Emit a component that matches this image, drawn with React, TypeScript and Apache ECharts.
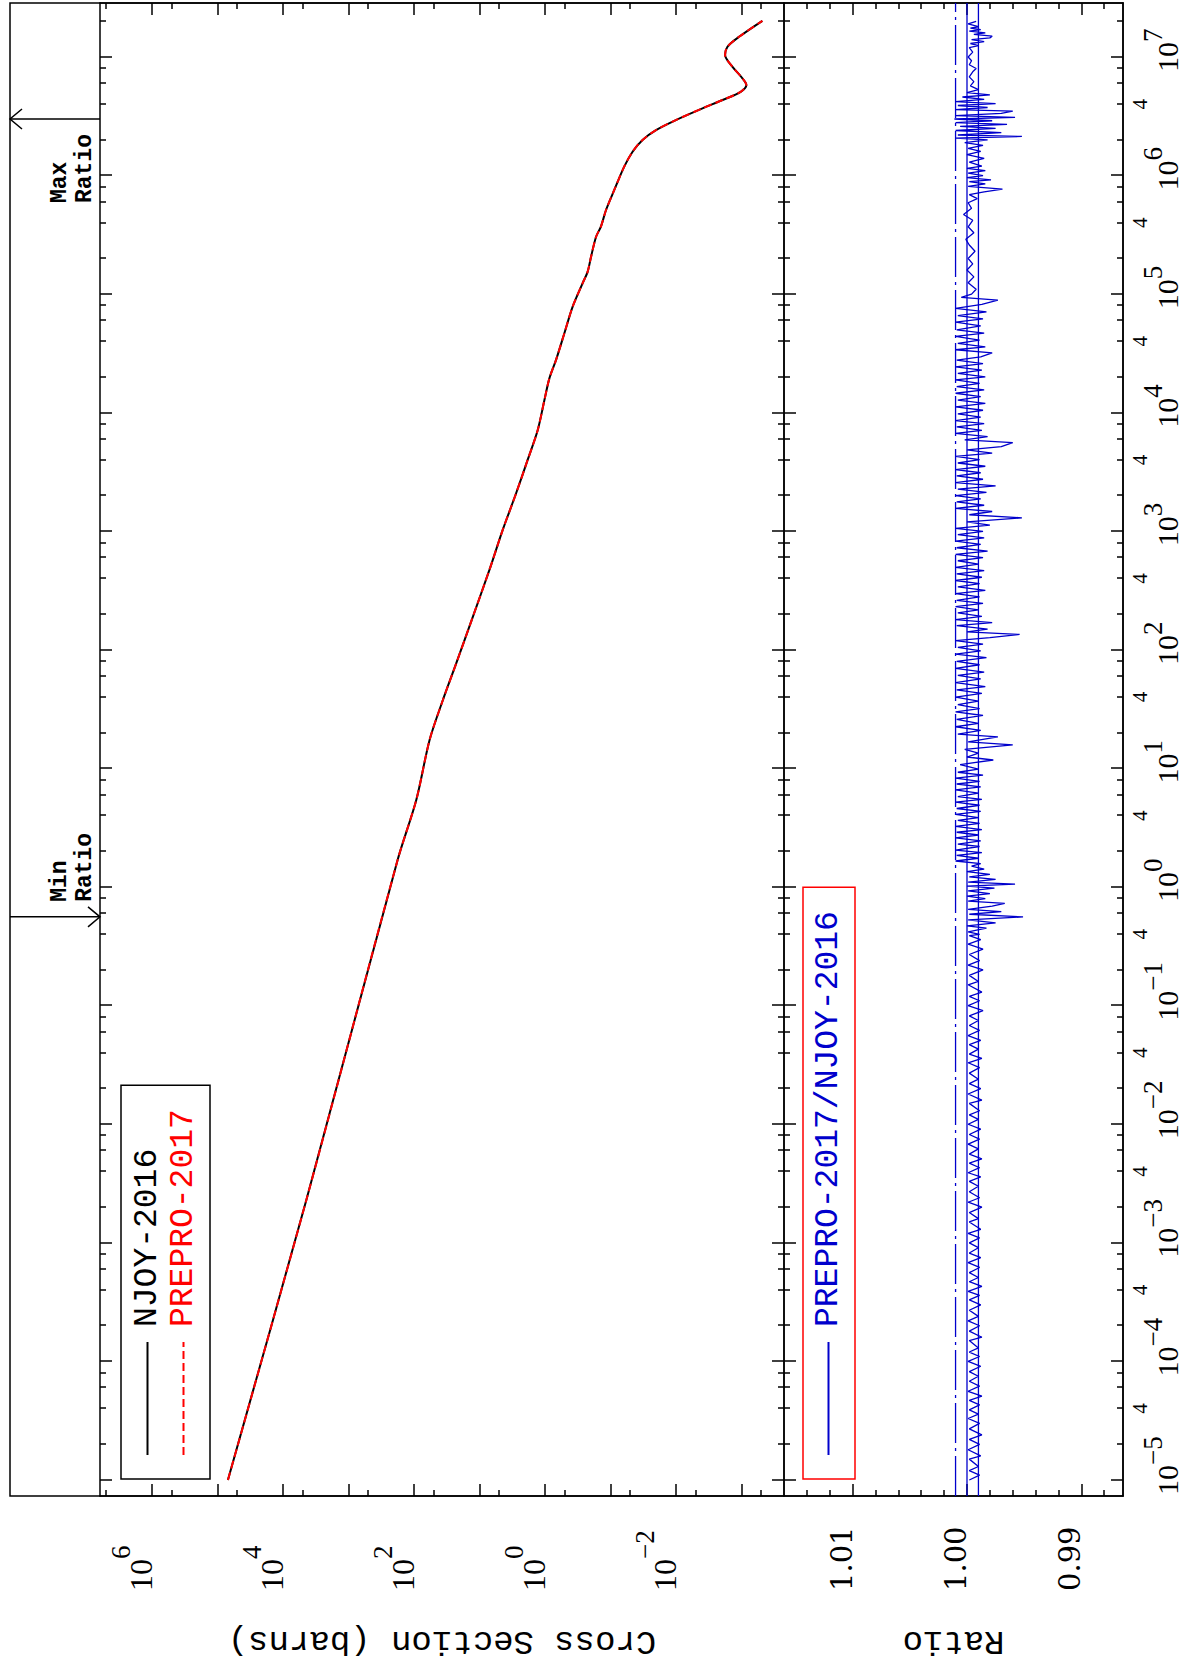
import React, { useEffect, useRef } from "react";
import * as echarts from "echarts";

// ---------- axis ranges (landscape chart, rotated on the page) ----------
const E_MIN = 7.33e-6;
const E_MAX = 2.854e7;
const XS_MIN = 2.244e-4;
const XS_MAX = 6.22e6;
const R_MIN = 0.98636;
const R_MAX = 1.016;

// ---------- tick lists ----------
const energyMajorTicks = [1e-5, 1e-4, 1e-3, 1e-2, 1e-1, 1, 1e1, 1e2, 1e3, 1e4, 1e5, 1e6, 1e7];
const energyMinorTicks = [
  2e-5, 4e-5, 6e-5, 8e-5, 2e-4, 4e-4, 6e-4, 8e-4, 2e-3, 4e-3, 6e-3, 8e-3,
  2e-2, 4e-2, 6e-2, 8e-2, 0.2, 0.4, 0.6, 0.8, 2, 4, 6, 8, 20, 40, 60, 80,
  200, 400, 600, 800, 2e3, 4e3, 6e3, 8e3, 2e4, 4e4, 6e4, 8e4, 2e5, 4e5, 6e5, 8e5,
  2e6, 4e6, 6e6, 8e6, 2e7,
];
const energyFourLabels = [4e-5, 4e-4, 4e-3, 4e-2, 0.4, 4, 40, 400, 4e3, 4e4, 4e5, 4e6];
const xsMajorTicks = [1e-3, 1e-2, 1e-1, 1, 1e1, 1e2, 1e3, 1e4, 1e5, 1e6];
const xsMinorTicks = [5e-4, 5e-3, 5e-2, 0.5, 5, 50, 500, 5e3, 5e4, 5e5, 5e6];
const xsLabelTicks = [1e-2, 1, 1e2, 1e4, 1e6];
const ratioMajorTicks = [0.99, 1.0, 1.01];
const ratioMinorTicks = [0.988, 0.992, 0.994, 0.996, 0.998, 1.002, 1.004, 1.006, 1.008, 1.012, 1.014];
const ratioRefLines = [1.001, 1.0, 0.999];

// ---------- cross section (barns) vs energy (eV) ----------
const xsEnergy = [
  1.0e-5, 2.31e-3, 1.69, 5.43, 17.4, 37.8, 77.3, 191, 473, 1028, 2094, 4000, 7161,
  1.28e4, 1.95e4, 2.79e4, 4.68e4, 7.85e4, 1.24e5, 1.55e5, 2.07e5, 3.05e5, 3.71e5,
  5.13e5, 7.57e5, 1.19e6, 1.59e6, 2.0e6, 2.42e6, 2.94e6, 3.69e6, 4.34e6, 5.09e6,
  5.81e6, 6.61e6, 8.3e6, 1.04e7, 1.22e7, 1.48e7, 2.02e7,
];
const xsNjoy = [
  6.93e4, 4.39e3, 178, 92.3, 57.8, 36.2, 22.6, 12.6, 7.05, 4.42, 2.76, 1.84, 1.29,
  1.02, 0.857, 0.678, 0.506, 0.378, 0.266, 0.223, 0.198, 0.166, 0.14,
  0.117, 0.0875, 0.0617, 0.046, 0.0324, 0.0202, 0.01005, 0.00394, 0.00195, 0.00103,
  0.000843, 0.000968, 0.00138, 0.00178, 0.00164, 0.00109, 0.00048,
];
const xsPrepro = xsNjoy;

// ---------- ratio PREPRO-2017 / NJOY-2016 : [energy eV, ratio] ----------
const ratioPoints: [number, number][] = [
  [1.0e-5,0.9998],[1.1e-5,0.9989],[1.2e-5,0.9998],[1.3e-5,0.999],[1.5e-5,0.9998],[1.6e-5,0.9988],[1.8e-5,0.9999],[2.0e-5,0.9989],
  [2.2e-5,0.9998],[2.4e-5,0.9987],[2.7e-5,0.9998],[3.0e-5,0.9989],[3.3e-5,0.9999],[3.6e-5,0.999],[3.9e-5,0.9998],[4.3e-5,0.9989],
  [4.7e-5,0.9998],[5.1e-5,0.9987],[5.6e-5,0.9999],[6.2e-5,0.9989],[6.8e-5,0.9998],[7.5e-5,0.999],[8.2e-5,0.9998],[9.1e-5,0.9988],
  [1.0e-4,0.9999],[1.1e-4,0.9989],[1.2e-4,0.9998],[1.3e-4,0.999],[1.5e-4,0.9998],[1.6e-4,0.9987],[1.8e-4,0.9998],[2.0e-4,0.9989],
  [2.2e-4,0.9999],[2.4e-4,0.999],[2.7e-4,0.9998],[3.0e-4,0.9988],[3.3e-4,0.9998],[3.6e-4,0.9989],[3.9e-4,0.9999],[4.3e-4,0.9987],
  [4.7e-4,0.9998],[5.1e-4,0.999],[5.6e-4,0.9998],[6.2e-4,0.9989],[6.8e-4,0.9999],[7.5e-4,0.9988],[8.2e-4,0.9998],[9.1e-4,0.999],
  [1.0e-3,0.9998],[1.1e-3,0.9989],[1.2e-3,0.9999],[1.3e-3,0.9988],[1.5e-3,0.9998],[1.6e-3,0.999],[1.8e-3,0.9998],[2.0e-3,0.9987],
  [2.2e-3,0.9999],[2.4e-3,0.9989],[2.7e-3,0.9998],[3.0e-3,0.999],[3.3e-3,0.9998],[3.6e-3,0.9988],[3.9e-3,0.9999],[4.3e-3,0.9989],
  [4.7e-3,0.9998],[5.1e-3,0.9987],[5.6e-3,0.9998],[6.2e-3,0.999],[6.8e-3,0.9999],[7.5e-3,0.9989],[8.2e-3,0.9998],[9.1e-3,0.9988],
  [1.0e-2,0.9999],[1.1e-2,0.999],[1.2e-2,0.9998],[1.3e-2,0.9989],[1.5e-2,0.9998],[1.6e-2,0.9987],[1.8e-2,0.9999],[2.0e-2,0.9988],
  [2.2e-2,0.9998],[2.4e-2,0.999],[2.7e-2,0.9998],[3.0e-2,0.9989],[3.3e-2,0.9999],[3.6e-2,0.9987],[3.9e-2,0.9998],[4.3e-2,0.999],
  [4.7e-2,0.9998],[5.1e-2,0.9988],[5.6e-2,0.9999],[6.2e-2,0.9989],[6.8e-2,0.9998],[7.5e-2,0.999],[8.2e-2,0.9998],[9.1e-2,0.9986],
  [0.1,0.9999],[0.11,0.9989],[0.12,0.9998],[0.13,0.9987],[0.15,0.9999],[0.16,0.999],[0.18,0.9998],[0.2,0.9986],
  [0.22,0.9999],[0.24,0.9989],[0.27,0.9998],[0.3,0.9986],[0.33,0.9999],[0.36,0.9988],[0.39,0.9998],
  [0.4,0.9989],[0.42,0.9999],[0.45,0.9983],[0.47,1.0],[0.5,0.9975],[0.53,0.9999],[0.56,0.9951],[0.59,0.9998],
  [0.62,0.997],[0.65,0.9999],[0.69,0.9978],[0.73,0.9967],[0.76,0.9999],[0.8,0.9984],[0.84,1.0],[0.88,0.998],
  [0.93,0.9999],[0.98,0.9976],[1.02,1.0],[1.06,0.9958],[1.1,0.9999],[1.16,0.9975],[1.22,0.9998],[1.28,0.998],
  [1.35,1.0],[1.42,0.9985],[1.5,0.9996],[1.58,0.9988],[1.66,1.001],[1.75,0.999],[1.85,1.0009],[1.95,0.9987],
  [2.05,1.001],[2.2,0.9989],[2.3,1.0008],[2.45,0.9988],[2.6,1.001],[2.75,0.999],[2.9,1.0009],[3.05,0.9987],
  [3.25,1.001],[3.45,0.9989],[3.65,1.0008],[3.85,0.999],[4.1,1.001],[4.35,0.9988],[4.6,1.0009],[4.9,0.9989],
  [5.2,1.001],[5.5,0.9987],[5.8,1.0008],[6.2,0.999],[6.6,1.001],[7.0,0.9988],[7.4,1.0009],[7.8,0.9989],
  [8.3,1.001],[8.8,0.9986],[9.3,1.0008],[9.9,0.999],[10.8,1.0006],[11.8,0.9977],[12.5,1.0],[13.5,0.999],
  [14.5,1.0002],[15.8,0.996],[16.8,0.9999],[18.5,0.9973],[19.5,1.0008],[21,0.9988],[22.5,1.001],[24,0.999],
  [26,1.0009],[28,0.9986],[30,1.001],[32,0.9989],[34.5,1.0008],[37,0.999],[40,1.001],[43,0.9987],
  [46,1.0009],[49,0.9984],[53,1.001],[57,0.9988],[61,1.0008],[65,0.9985],[70,1.001],[75,0.9989],
  [80,1.0009],[86,0.9983],[92,1.001],[98,0.9988],[105,1.0008],[112,0.9986],[120,1.001],[127,0.998],
  [135,0.9954],[142,1.0],[150,0.9982],[160,1.0009],[170,0.9978],[180,1.001],[192,0.9987],[205,1.0008],
  [218,0.999],[232,1.001],[247,0.9986],[262,1.0009],[280,0.9989],[298,1.001],[318,0.9984],[340,1.0008],
  [362,0.9989],[385,1.001],[410,0.9987],[437,1.0009],[466,0.9985],[497,1.001],[530,0.999],[565,1.0008],
  [600,0.9986],[640,1.001],[682,0.9982],[727,1.0009],[775,0.9988],[826,1.001],[880,0.9985],[938,1.0008],
  [1000,0.9986],[1060,1.001],[1130,0.998],[1200,1.0],[1300,0.9952],[1380,0.9998],[1470,0.9978],[1560,1.001],
  [1660,0.9985],[1770,1.0009],[1880,0.9988],[2000,1.001],[2130,0.9983],[2270,1.0008],[2420,0.9975],[2580,1.001],
  [2750,0.9986],[2930,1.0009],[3120,0.9988],[3320,1.001],[3540,0.9984],[3770,1.0008],[4020,0.9989],[4280,1.001],
  [4560,0.9978],[4860,1.0],[5180,0.997],[5600,0.996],[5900,1.0002],[6300,0.9982],[6700,1.001],[7100,0.9987],
  [7600,1.0009],[8100,0.9985],[8600,1.001],[9200,0.9988],[9800,1.0008],[1.05e4,0.9986],[1.12e4,1.001],[1.2e4,0.9984],
  [1.28e4,1.0008],[1.37e4,0.9988],[1.46e4,1.001],[1.56e4,0.9985],[1.66e4,1.0009],[1.77e4,0.9989],[1.89e4,1.001],[2.01e4,0.9984],
  [2.15e4,1.0008],[2.29e4,0.9987],[2.44e4,1.001],[2.6e4,0.9986],[2.78e4,1.0009],[2.96e4,0.9988],[3.2e4,0.9978],[3.4e4,1.001],
  [3.6e4,0.9984],[3.85e4,1.0008],[4.1e4,0.9989],[4.4e4,1.001],[4.7e4,0.9985],[5.0e4,1.0009],[5.4e4,0.9988],[5.8e4,1.001],
  [6.2e4,0.9986],[6.6e4,1.0008],[7.1e4,0.9983],[7.6e4,1.001],[8.2e4,0.9987],[8.9e4,0.9973],[9.4e4,1.0005],
  [1.0e5,0.9996],[1.1e5,0.9992],[1.25e5,0.9999],[1.4e5,0.9994],[1.6e5,1.0],[1.8e5,0.9995],[2.0e5,0.9999],[2.3e5,0.9993],
  [2.6e5,0.9998],[2.9e5,1.0001],[3.3e5,0.9994],[3.7e5,0.9999],[4.2e5,0.9995],[4.7e5,1.0003],[5.3e5,0.9996],[5.9e5,0.9999],
  [6.4e5,0.9991],[6.9e5,0.9998],[7.3e5,0.9985],[7.7e5,0.9969],[8.1e5,0.9999],[8.5e5,0.9984],[8.9e5,0.9998],[9.2e5,0.9979],
  [9.6e5,1.0],[1.0e6,0.9986],[1.05e6,0.9999],[1.1e6,0.9984],[1.15e6,1.0],[1.2e6,0.9987],[1.3e6,0.9998],[1.4e6,0.9985],
  [1.5e6,1.0],[1.6e6,0.9988],[1.7e6,0.9999],[1.8e6,0.9986],[1.9e6,1.0002],[2.0e6,0.9982],[2.07e6,1.001],[2.14e6,0.9952],
  [2.2e6,1.0008],[2.3e6,0.997],[2.4e6,1.001],[2.5e6,0.9975],[2.6e6,1.0006],[2.7e6,0.9965],[2.8e6,1.001],[2.9e6,0.9978],
  [3.0e6,1.0011],[3.1e6,0.9958],[3.2e6,1.001],[3.35e6,0.997],[3.5e6,0.996],[3.6e6,1.001],[3.75e6,0.9982],[3.9e6,1.0008],
  [4.05e6,0.9975],[4.2e6,1.001],[4.4e6,0.9985],[4.6e6,1.0004],[4.8e6,0.998],[5.0e6,1.0],[5.3e6,0.999],[5.7e6,0.9997],
  [6.2e6,0.9994],[6.8e6,0.9998],[7.5e6,0.9995],[8.0e6,0.9992],[8.6e6,0.9998],[9.3e6,0.9996],[1.0e7,0.9999],[1.1e7,0.9995],
  [1.2e7,0.9998],[1.25e7,0.999],[1.3e7,0.9997],[1.35e7,0.9985],[1.4e7,0.9996],[1.45e7,0.998],[1.5e7,0.9978],[1.55e7,0.9994],
  [1.6e7,0.9984],[1.65e7,0.9998],[1.7e7,0.9988],[1.75e7,0.9997],[1.8e7,0.999],[1.9e7,0.9999],[2.0e7,0.9992],
];

// ---------- min / max ratio markers ----------
const extremeEnergies = [3.0e6, 0.561];
const extremeLabels = ["Max", "Min"];

// ---------- names ----------
const seriesNames = ["NJOY-2016", "PREPRO-2017", "PREPRO-2017/NJOY-2016"];

const SERIF = "Liberation Serif";
const MONO = "Liberation Mono";
const DSERIF = "DejaVu Serif";
const BLUE = "#0000cc";
const RED = "#ff0000";

function tickAxis(base: any, ticks: number[], length: number, lineShow: boolean) {
  return {
    ...base,
    axisLine: { show: lineShow, onZero: false, lineStyle: { color: "#000", width: 1.5 } },
    axisTick: { show: true, inside: true, length, customValues: ticks, lineStyle: { color: "#000", width: 1.5 } },
    axisLabel: { show: false },
    splitLine: { show: false },
    minorTick: { show: false },
    minorSplitLine: { show: false },
    silent: true,
  };
}

function labelOnlyAxis(base: any, axisLabel: any) {
  return {
    ...base,
    axisLine: { show: false },
    axisTick: { show: false },
    splitLine: { show: false },
    minorTick: { show: false },
    minorSplitLine: { show: false },
    silent: true,
    axisLabel: { show: true, color: "#000", ...axisLabel },
  };
}

function expText(v: number) {
  const e = Math.round(Math.log10(v));
  return e < 0 ? "\u2212" + Math.abs(e) : String(e);
}

function buildOption(): any {
  const eBase = { type: "log", logBase: 10, min: E_MIN, max: E_MAX };
  const xsBase = { type: "log", logBase: 10, min: XS_MIN, max: XS_MAX };
  const rBase = { type: "value", min: R_MIN, max: R_MAX };

  const grids = [
    { left: 167, right: 3, top: 10, height: 90, outerBoundsMode: "none", containLabel: false },
    { left: 167, right: 3, top: 100, height: 684, outerBoundsMode: "none", containLabel: false },
    { left: 167, right: 3, top: 784, height: 339, outerBoundsMode: "none", containLabel: false },
  ];

  // energy axis: "10" base labels on the ticked bottom axis
  const energyLabelAxis: any = tickAxis({ ...eBase, gridIndex: 2, position: "bottom" }, energyMajorTicks, 12, true);
  energyLabelAxis.axisLabel = {
    show: true,
    customValues: energyMajorTicks,
    formatter: () => "10",
    margin: 33,
    align: "center",
    verticalAlign: "top",
    fontFamily: SERIF,
    fontSize: 30,
    lineHeight: 22,
    color: "#000",
  };
  const energyFourAxis: any = tickAxis({ ...eBase, gridIndex: 2, position: "bottom" }, energyMinorTicks, 6, false);
  energyFourAxis.axisLabel = {
    show: true,
    customValues: energyFourLabels,
    formatter: () => "4",
    margin: 7,
    align: "center",
    verticalAlign: "top",
    fontFamily: SERIF,
    fontSize: 21,
    lineHeight: 20,
    color: "#000",
  };
  const energyExpAxis = labelOnlyAxis(
    { ...eBase, gridIndex: 2, position: "bottom" },
    {
      customValues: energyMajorTicks,
      formatter: (v: number) => expText(v),
      margin: 19,
      align: "left",
      verticalAlign: "top",
      padding: [0, 0, 0, 15],
      fontFamily: SERIF,
      fontSize: 27,
      lineHeight: 22,
    }
  );

  const xAxis = [
    { ...eBase, gridIndex: 0, show: false },
    tickAxis({ ...eBase, gridIndex: 1, position: "top" }, energyMajorTicks, 12, true),
    tickAxis({ ...eBase, gridIndex: 1, position: "top" }, energyMinorTicks, 6, false),
    tickAxis({ ...eBase, gridIndex: 1, position: "bottom" }, energyMajorTicks, 12, true),
    tickAxis({ ...eBase, gridIndex: 1, position: "bottom" }, energyMinorTicks, 6, false),
    tickAxis({ ...eBase, gridIndex: 2, position: "top" }, energyMajorTicks, 12, true),
    tickAxis({ ...eBase, gridIndex: 2, position: "top" }, energyMinorTicks, 6, false),
    energyLabelAxis,
    energyFourAxis,
    energyExpAxis,
  ];

  // cross-section axis
  const xsLabelAxis: any = tickAxis({ ...xsBase, gridIndex: 1, position: "left" }, xsMajorTicks, 12, true);
  xsLabelAxis.axisLabel = {
    show: true,
    customValues: xsLabelTicks,
    formatter: () => "10",
    margin: 95,
    align: "left",
    verticalAlign: "bottom",
    fontFamily: SERIF,
    fontSize: 32,
    lineHeight: 22,
    color: "#000",
  };
  xsLabelAxis.name = "Cross Section (barns)";
  xsLabelAxis.nameLocation = "middle";
  xsLabelAxis.nameRotate = 90;
  xsLabelAxis.nameGap = 127;
  xsLabelAxis.nameTextStyle = { fontFamily: MONO, fontSize: 34, lineHeight: 36, color: "#000" };

  const xsExpAxis = labelOnlyAxis(
    { ...xsBase, gridIndex: 1, position: "left" },
    {
      customValues: xsLabelTicks,
      formatter: (v: number) => expText(v),
      margin: 63,
      align: "left",
      verticalAlign: "bottom",
      fontFamily: SERIF,
      fontSize: 27,
      lineHeight: 62,
    }
  );

  // ratio axis
  const ratioLabelAxis: any = tickAxis({ ...rBase, gridIndex: 2, position: "left" }, ratioMajorTicks, 12, true);
  ratioLabelAxis.axisLabel = {
    show: true,
    customValues: ratioMajorTicks,
    formatter: (v: number) => v.toFixed(2),
    margin: 95,
    align: "left",
    verticalAlign: "bottom",
    fontFamily: DSERIF,
    fontSize: 29,
    lineHeight: 22,
    color: "#000",
  };
  ratioLabelAxis.name = "Ratio";
  ratioLabelAxis.nameLocation = "middle";
  ratioLabelAxis.nameRotate = 90;
  ratioLabelAxis.nameGap = 127;
  ratioLabelAxis.nameTextStyle = { fontFamily: MONO, fontSize: 34, lineHeight: 36, color: "#000" };

  const yAxis = [
    { type: "value", min: 0, max: 1, gridIndex: 0, show: false },
    xsLabelAxis,
    tickAxis({ ...xsBase, gridIndex: 1, position: "left" }, xsMinorTicks, 6, false),
    tickAxis({ ...xsBase, gridIndex: 1, position: "right" }, xsMajorTicks, 12, true),
    tickAxis({ ...xsBase, gridIndex: 1, position: "right" }, xsMinorTicks, 6, false),
    ratioLabelAxis,
    tickAxis({ ...rBase, gridIndex: 2, position: "left" }, ratioMinorTicks, 6, false),
    tickAxis({ ...rBase, gridIndex: 2, position: "right" }, ratioMajorTicks, 12, true),
    tickAxis({ ...rBase, gridIndex: 2, position: "right" }, ratioMinorTicks, 6, false),
    xsExpAxis,
  ];

  const legendText = { fontFamily: MONO, fontSize: 33, padding: [0, 0, 0, 10] };
  const hiddenSymbol = { color: "rgba(0,0,0,0)", borderColor: "rgba(0,0,0,0)", borderWidth: 0, opacity: 0 };

  const refLineSeries = ratioRefLines.map((r, i) => ({
    type: "line",
    xAxisIndex: 5,
    yAxisIndex: 5,
    data: [
      [E_MIN, r],
      [E_MAX, r],
    ],
    symbol: "none",
    silent: true,
    z: 1,
    lineStyle: { color: BLUE, width: 1.3, type: i === 0 ? [40, 5, 3, 5] : "solid" },
  }));

  return {
    animation: false,
    backgroundColor: "#fff",
    grid: grids,
    xAxis,
    yAxis,
    legend: [
      {
        data: [
          { name: seriesNames[0], textStyle: { ...legendText, color: "#000" } },
          { name: seriesNames[1], textStyle: { ...legendText, color: RED } },
        ],
        orient: "vertical",
        left: 184,
        top: 121,
        itemWidth: 113,
        itemHeight: 20,
        itemGap: 3,
        padding: [10, 24, 10, 23],
        borderColor: "#000",
        borderWidth: 1.5,
        selectedMode: false,
        itemStyle: hiddenSymbol,
        textStyle: legendText,
      },
      {
        data: [{ name: seriesNames[2], textStyle: { ...legendText, color: BLUE } }],
        orient: "vertical",
        left: 184,
        top: 803,
        itemWidth: 113,
        itemHeight: 20,
        itemGap: 3,
        padding: [9, 24, 10, 23],
        borderColor: RED,
        borderWidth: 1.5,
        selectedMode: false,
        itemStyle: hiddenSymbol,
        textStyle: legendText,
      },
    ],
    graphic: [
      {
        type: "rect",
        silent: true,
        shape: { x: 167, y: 10, width: 1493, height: 1113 },
        style: { fill: "none", stroke: "#000", lineWidth: 1.5 },
      },
    ],
    series: [
      {
        name: seriesNames[0],
        type: "line",
        xAxisIndex: 1,
        yAxisIndex: 1,
        data: xsEnergy.map((e, i) => [e, xsNjoy[i]]),
        symbol: "none",
        smooth: 0.3,
        color: "#000",
        lineStyle: { color: "#000", width: 2 },
        silent: true,
      },
      {
        name: seriesNames[1],
        type: "line",
        xAxisIndex: 1,
        yAxisIndex: 1,
        data: xsEnergy.map((e, i) => [e, xsPrepro[i]]),
        symbol: "none",
        smooth: 0.3,
        color: RED,
        lineStyle: { color: RED, width: 2, type: [8, 4] },
        silent: true,
      },
      ...refLineSeries,
      {
        name: seriesNames[2],
        type: "line",
        xAxisIndex: 5,
        yAxisIndex: 5,
        data: ratioPoints,
        symbol: "none",
        color: BLUE,
        z: 2,
        lineStyle: { color: BLUE, width: 1.3 },
        silent: true,
      },
      {
        type: "custom",
        xAxisIndex: 0,
        yAxisIndex: 0,
        clip: false,
        silent: true,
        data: extremeEnergies.map((e) => [e, 0]),
        renderItem: (params: any, api: any) => {
          const e = api.value(0);
          const pBot = api.coord([e, 0]);
          const pTop = api.coord([e, 1]);
          const x = pBot[0];
          const isMax = params.dataIndex === 0;
          const tipY = isMax ? pTop[1] : pBot[1];
          const dir = isMax ? 1 : -1;
          return {
            type: "group",
            children: [
              {
                type: "line",
                shape: { x1: x, y1: pBot[1], x2: x, y2: pTop[1] },
                style: { stroke: "#000", lineWidth: 1.5 },
              },
              {
                type: "polyline",
                shape: { points: [[x - 10, tipY + dir * 12], [x, tipY], [x + 10, tipY + dir * 12]] },
                style: { stroke: "#000", fill: "none", lineWidth: 1.5 },
              },
              {
                type: "text",
                x: isMax ? x - 84 : x + 15,
                y: pTop[1] + 62,
                style: {
                  text: extremeLabels[params.dataIndex] + "\nRatio",
                  fontFamily: MONO,
                  fontSize: 23,
                  fontWeight: "bold",
                  lineHeight: 25,
                  align: "left",
                  verticalAlign: "middle",
                  fill: "#000",
                },
              },
            ],
          };
        },
      },
    ],
  };
}

export default function App() {
  const ref = useRef<HTMLDivElement>(null);
  useEffect(() => {
    if (!ref.current) return;
    const chart = echarts.init(ref.current, null, { renderer: "svg" });
    chart.setOption(buildOption());
    return () => chart.dispose();
  }, []);
  return (
    <div
      style={{
        position: "absolute",
        left: 0,
        top: 0,
        width: 1185,
        height: 1663,
        overflow: "hidden",
        background: "#fff",
      }}
    >
      <div
        ref={ref}
        style={{
          position: "absolute",
          left: 0,
          top: 0,
          width: 1663,
          height: 1185,
          transformOrigin: "0 0",
          transform: "translate(0px, 1663px) rotate(-90deg)",
        }}
      />
    </div>
  );
}
